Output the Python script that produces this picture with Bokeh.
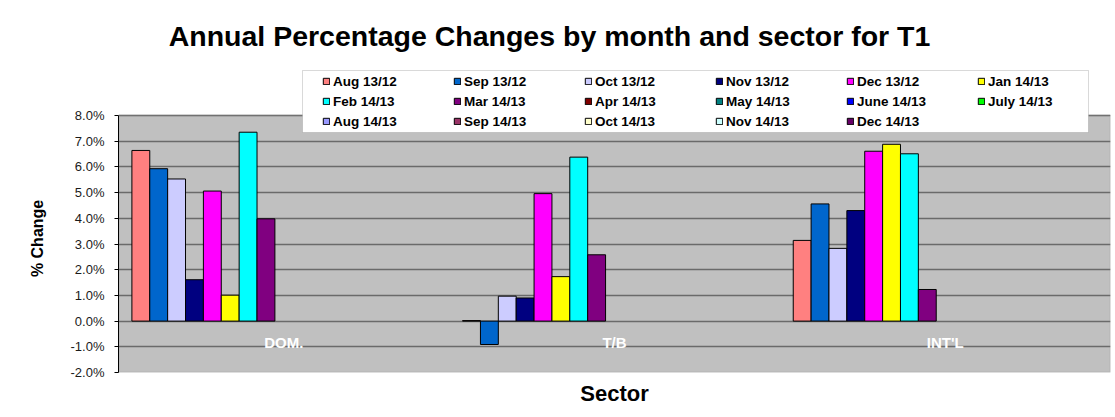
from bokeh.plotting import figure
from bokeh.models import (FactorRange, FixedTicker, PrintfTickFormatter, Legend, LegendItem,
                          CategoricalAxis, ColumnDataSource, BoxAnnotation, Label)
from bokeh.transform import dodge
from bokeh.embed import file_html
from bokeh.resources import INLINE

NaN = float("nan")

sectors = ["DOM.", "T/B", "INT'L"]

months = ["Aug 13/12", "Sep 13/12", "Oct 13/12", "Nov 13/12", "Dec 13/12", "Jan 14/13",
          "Feb 14/13", "Mar 14/13", "Apr 14/13", "May 14/13", "June 14/13", "July 14/13",
          "Aug 14/13", "Sep 14/13", "Oct 14/13", "Nov 14/13", "Dec 14/13"]

month_colors = ["#FF8080", "#0066CC", "#CCCCFF", "#000080", "#FF00FF", "#FFFF00",
                "#00FFFF", "#800080", "#800000", "#008080", "#0000FF", "#00FF00",
                "#9999FF", "#993366", "#FFFFCC", "#CCFFFF", "#660066"]

# % change per sector (DOM., T/B, INT'L)
aug_13_12 = [6.64, 0.02, 3.14]
sep_13_12 = [5.93, -0.91, 4.56]
oct_13_12 = [5.53, 0.97, 2.83]
nov_13_12 = [1.61, 0.90, 4.30]
dec_13_12 = [5.06, 4.96, 6.61]
jan_14_13 = [1.01, 1.73, 6.88]
feb_14_13 = [7.35, 6.38, 6.51]
mar_14_13 = [3.98, 2.58, 1.23]
no_data = [NaN, NaN, NaN]

series_values = [aug_13_12, sep_13_12, oct_13_12, nov_13_12, dec_13_12, jan_14_13,
                 feb_14_13, mar_14_13] + [no_data] * 9

y_ticks = [-2, -1, 0, 1, 2, 3, 4, 5, 6, 7, 8]
y_min, y_max = -2, 8

FONT = "Liberation Sans"

PX_PER_UNIT = 25.7          # plot-area scale (257 px for 10 %)
EXTRA_TOP = 100             # white space above the plot area, inside the frame

p = figure(x_range=FactorRange(*sectors),
           y_range=(y_min, y_max + EXTRA_TOP / PX_PER_UNIT),
           frame_width=992, frame_height=257 + EXTRA_TOP,
           min_border_left=118, min_border_right=5, min_border_top=15, min_border_bottom=40,
           output_backend="svg", toolbar_location=None, tools="")

p.background_fill_color = "white"
p.border_fill_color = "white"
p.outline_line_color = None

# grey plot area (y_min .. y_max) with border
plot_area = BoxAnnotation(bottom=y_min, top=y_max, fill_color="#C0C0C0", fill_alpha=1,
                          line_color=None, level="image")
p.add_layout(plot_area)
plot_border = BoxAnnotation(bottom=y_min, top=y_max, fill_alpha=0,
                            line_color="#808080", line_width=1.5, level="underlay")
p.add_layout(plot_border)

n = len(months)
slot = 1.0 / (n + 1.5)
renderers = []
for i, (name, color, vals) in enumerate(zip(months, month_colors, series_values)):
    src = ColumnDataSource(dict(sector=sectors, value=vals))
    off = -0.5 + slot * (0.75 + i + 0.5)
    r = p.vbar(x=dodge("sector", off, range=p.x_range), top="value", bottom=0, width=slot,
               source=src, fill_color=color, line_color="black", line_width=1)
    renderers.append((name, r))

# y axis
p.yaxis.bounds = (y_min, y_max)
p.yaxis.ticker = FixedTicker(ticks=y_ticks)
p.yaxis.formatter = PrintfTickFormatter(format="%.1f%%")
p.yaxis.axis_line_color = "#000000"
p.yaxis.major_tick_out = 4
p.yaxis.major_tick_in = 0
p.yaxis.minor_tick_line_color = None
p.yaxis.major_label_text_font = FONT
p.yaxis.major_label_text_font_size = "13px"
p.yaxis.major_label_text_color = "#1a1a1a"
p.yaxis.major_label_standoff = 10
# trailing no-break spaces shift the centred label down onto the grey plot area
p.yaxis.axis_label = "% Change" + "\u00a0" * 20
p.yaxis.axis_label_text_font = FONT
p.yaxis.axis_label_text_font_style = "bold"
p.yaxis.axis_label_text_font_size = "16px"
p.yaxis.axis_label_text_color = "black"
p.yaxis.axis_label_standoff = 22

p.ygrid.ticker = FixedTicker(ticks=y_ticks)
p.ygrid.grid_line_color = "#6a6a6a"
p.ygrid.grid_line_width = 1.5
p.xgrid.grid_line_color = None

# bottom axis: only the "Sector" title
p.xaxis.axis_label = "Sector"
p.xaxis.axis_label_text_font = FONT
p.xaxis.axis_label_text_font_style = "bold"
p.xaxis.axis_label_text_font_size = "22px"
p.xaxis.axis_label_text_color = "black"
p.xaxis.axis_label_standoff = 2
p.xaxis.major_label_text_font_size = "0px"
p.xaxis.major_label_standoff = 0
p.xaxis.major_tick_line_color = None
p.xaxis.axis_line_color = None

# category axis at zero
cat_axis = CategoricalAxis(fixed_location=0)
cat_axis.major_label_text_color = "white"
cat_axis.major_label_text_font = FONT
cat_axis.major_label_text_font_style = "bold"
cat_axis.major_label_text_font_size = "15px"
cat_axis.major_label_standoff = 7
cat_axis.major_tick_line_color = None
cat_axis.axis_line_color = None
p.add_layout(cat_axis, "below")

# legend box (frame-relative screen units, y measured up from frame bottom)
legend_box = BoxAnnotation(left=184, right=970, top=302, bottom=240,
                           left_units="screen", right_units="screen",
                           top_units="screen", bottom_units="screen",
                           fill_color="white", fill_alpha=1,
                           line_color="#808080", line_width=1)
p.add_layout(legend_box)

# legend: 3 rows x 6 columns, filled row by row (items ordered column by column)
n_rows, n_cols = 3, 6
item_order = [r * n_cols + c for c in range(n_cols) for r in range(n_rows) if r * n_cols + c < n]
legend = Legend(items=[LegendItem(label=renderers[k][0], renderers=[renderers[k][1]]) for k in item_order],
                location=(204, 241), orientation="vertical", nrows=n_rows,
                padding=0, spacing=0, margin=0,
                glyph_width=8, glyph_height=8, label_standoff=3,
                label_width=120, label_height=20,
                label_text_font=FONT, label_text_font_style="bold", label_text_font_size="13.5px",
                label_text_color="black",
                background_fill_alpha=0, border_line_color=None)
p.add_layout(legend, "center")

title = Label(x=431, y=337, x_units="screen", y_units="screen",
              text="Annual Percentage Changes by month and sector for T1",
              text_font=FONT, text_font_style="bold", text_font_size="28.5px",
              text_align="center", text_baseline="middle", text_color="black")
p.add_layout(title)

open("out.html", "w").write(file_html(p, INLINE))
